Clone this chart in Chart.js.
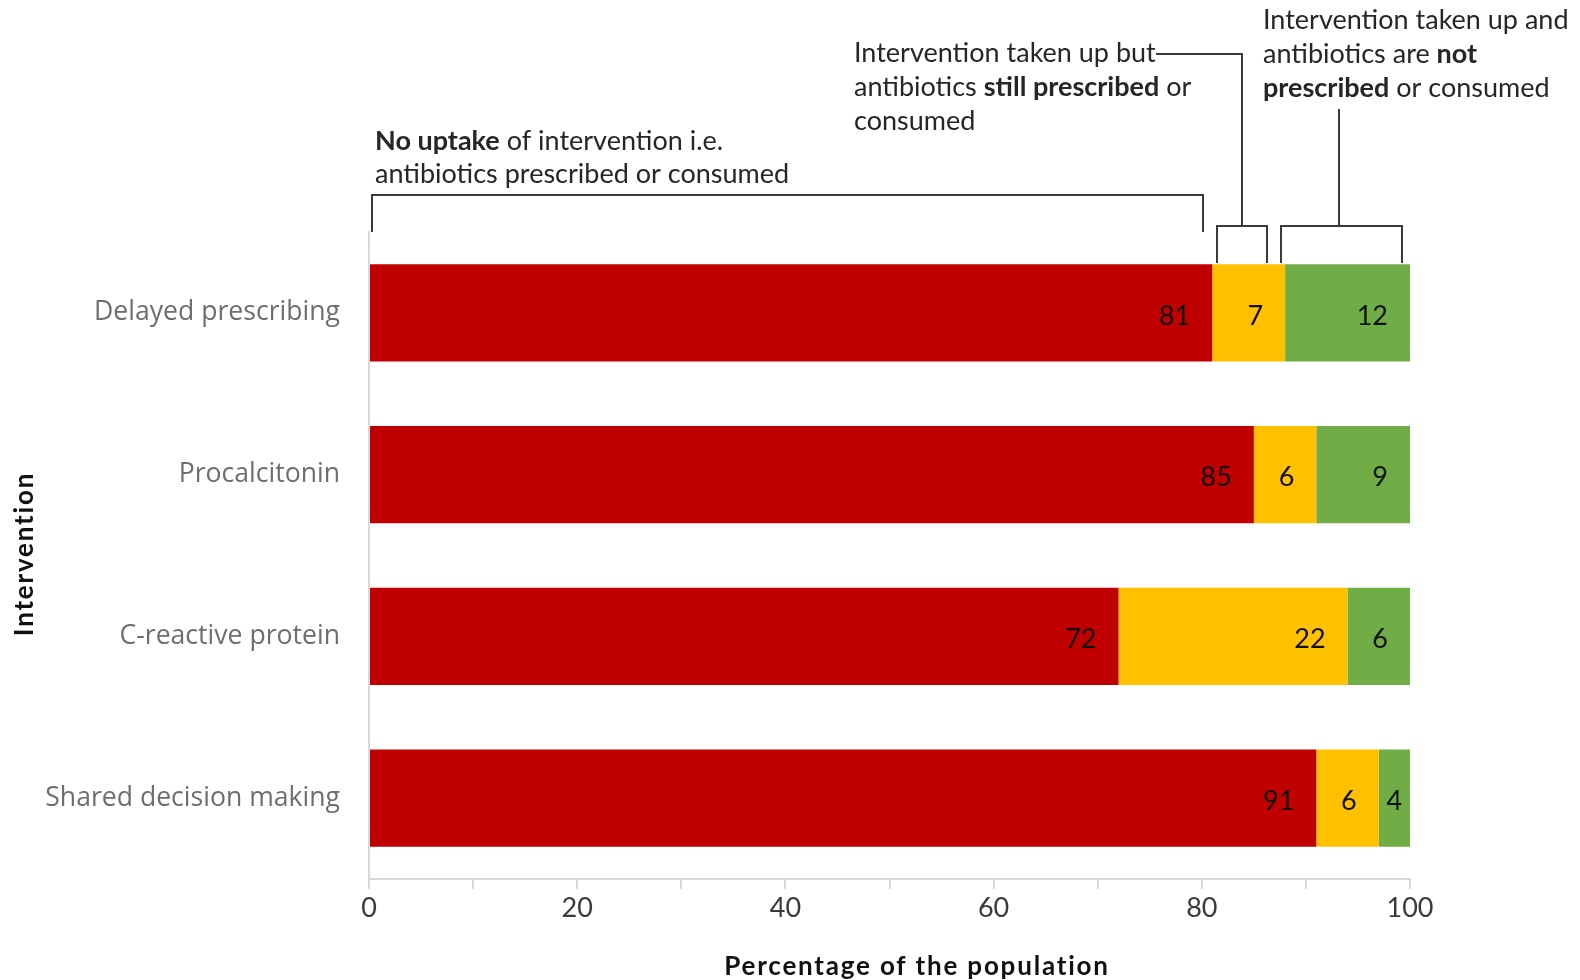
<!DOCTYPE html>
<html>
<head>
<meta charset="utf-8">
<script src="https://cdn.jsdelivr.net/npm/chart.js@4.4.1/dist/chart.umd.min.js"></script>
<style>
  html, body { margin: 0; padding: 0; background: #ffffff; }
  #wrap { width: 1580px; height: 980px; position: relative; }
</style>
</head>
<body>
<div id="wrap"><canvas id="chart" width="1580" height="980"></canvas></div>
<script>
// Interventions (one horizontal bar each)
const categories = ['Delayed prescribing', 'Procalcitonin', 'C-reactive protein', 'Shared decision making'];

// Share of the population (%) in each outcome group
const noUptake = [81, 85, 72, 91];
const uptakeStillPrescribed = [7, 6, 22, 6];
const uptakeNotPrescribed = [12, 9, 6, 4];

const seriesNames = [
  'No uptake of intervention',
  'Intervention taken up but antibiotics still prescribed',
  'Intervention taken up and antibiotics not prescribed'
];
const seriesColors = ['#C00000', '#FFC000', '#70AD47'];

// Labelled positions on the percentage axis
const xTickLabels = [0, 20, 40, 60, 80, 100];

const axisTitleX = 'Percentage of the population';
const axisTitleY = 'Intervention';

// Bracket callouts above the first bar: text lines made of [text, bold] runs
const calloutNoUptake = [
  [['No uptake', true], [' of intervention i.e.', false]],
  [['antibiotics prescribed or consumed', false]]
];
const calloutStillPrescribed = [
  [['Intervention taken up but', false]],
  [['antibiotics ', false], ['still prescribed', true], [' or', false]],
  [['consumed', false]]
];
const calloutNotPrescribed = [
  [['Intervention taken up and', false]],
  [['antibiotics are ', false], ['not', true]],
  [['prescribed', true], [' or consumed', false]]
];

const TEXT_FONT = 'Lato, "Open Sans", sans-serif';
const LABEL_FONT = '"Open Sans", "Noto Sans", sans-serif';

function drawRich(ctx, lines, x, y0, lineGap, size) {
  ctx.save();
  ctx.fillStyle = '#262626';
  ctx.textBaseline = 'middle';
  ctx.textAlign = 'left';
  lines.forEach((runs, i) => {
    let cx = x;
    const cy = y0 + i * lineGap;
    runs.forEach(([txt, bold]) => {
      ctx.font = (bold ? 'bold ' : '') + size + 'px ' + TEXT_FONT;
      ctx.fillText(txt, cx, cy);
      cx += ctx.measureText(txt).width;
    });
  });
  ctx.restore();
}

const calloutPlugin = {
  id: 'callouts',
  afterDatasetsDraw(chart) {
    const ctx = chart.ctx;
    const area = chart.chartArea;
    // value labels just inside the visible end of each segment
    ctx.save();
    ctx.font = '27px ' + TEXT_FONT;
    ctx.fillStyle = '#111111';
    ctx.textAlign = 'right';
    ctx.textBaseline = 'middle';
    chart.data.datasets.forEach((ds, di) => {
      const meta = chart.getDatasetMeta(di);
      meta.data.forEach((bar, i) => {
        const txt = String(ds.data[i]);
        const end = Math.min(bar.x, area.right);
        const start = Math.max(Math.min(bar.base, area.right), area.left);
        const w = ctx.measureText(txt).width;
        const pad = Math.max(0, Math.min(22, (end - start - w) / 2));
        ctx.fillText(txt, end - pad, bar.y + 3);
      });
    });
    ctx.restore();
  },
  afterDraw(chart) {
    const ctx = chart.ctx;
    const xs = chart.scales.x;
    const px = v => Math.round(xs.getPixelForValue(v));

    // brackets and leader lines
    ctx.save();
    ctx.strokeStyle = '#3a3a3a';
    ctx.lineWidth = 2;
    ctx.beginPath();
    // bracket over the no-uptake segment
    ctx.moveTo(px(0.3), 232); ctx.lineTo(px(0.3), 195); ctx.lineTo(px(80.1), 195); ctx.lineTo(px(80.1), 232);
    // bracket over the still-prescribed segment, with leader to its text
    ctx.moveTo(px(81.5), 263); ctx.lineTo(px(81.5), 226); ctx.lineTo(px(86.3), 226); ctx.lineTo(px(86.3), 263);
    ctx.moveTo(px(83.9), 226); ctx.lineTo(px(83.9), 54); ctx.lineTo(1156, 54);
    // bracket over the not-prescribed segment, with leader to its text
    ctx.moveTo(px(87.6), 263); ctx.lineTo(px(87.6), 226); ctx.lineTo(px(99.2), 226); ctx.lineTo(px(99.2), 263);
    ctx.moveTo(px(93.2), 226); ctx.lineTo(px(93.2), 109);
    ctx.stroke();
    ctx.restore();

    drawRich(ctx, calloutNoUptake, 375, 141, 33, 27);
    drawRich(ctx, calloutStillPrescribed, 854, 53, 34, 27);
    drawRich(ctx, calloutNotPrescribed, 1263, 20, 34, 27);

    // axis titles
    ctx.save();
    ctx.fillStyle = '#111111';
    ctx.font = 'bold 26px ' + TEXT_FONT;
    ctx.letterSpacing = '1.8px';
    ctx.textAlign = 'center';
    ctx.textBaseline = 'middle';
    ctx.fillText(axisTitleX, 917, 967);
    ctx.translate(25, 554);
    ctx.rotate(-Math.PI / 2);
    ctx.fillText(axisTitleY, 0, 0);
    ctx.restore();
  }
};

const seriesData = [noUptake, uptakeStillPrescribed, uptakeNotPrescribed];

new Chart(document.getElementById('chart'), {
  type: 'bar',
  data: {
    labels: categories,
    datasets: seriesData.map((d, i) => ({
      label: seriesNames[i],
      data: d,
      backgroundColor: seriesColors[i],
      borderWidth: 0,
      barPercentage: 0.6,
      categoryPercentage: 1.0
    }))
  },
  options: {
    indexAxis: 'y',
    responsive: false,
    animation: false,
    devicePixelRatio: 1,
    layout: { padding: { top: 232, right: 170, bottom: 0, left: 0 } },
    plugins: {
      legend: { display: false },
      tooltip: { enabled: false }
    },
    scales: {
      x: {
        stacked: true,
        min: 0,
        max: 100,
        ticks: {
          stepSize: 10,
          autoSkip: false,
          maxRotation: 0,
          padding: 3,
          color: '#3a3a3a',
          font: { family: TEXT_FONT, size: 27 },
          callback: v => (xTickLabels.includes(v) ? String(v) : '')
        },
        grid: { drawOnChartArea: false, drawTicks: true, tickLength: 10, color: '#d9d9d9', lineWidth: 2 },
        border: { display: true, color: '#d9d9d9', width: 2 },
        afterFit: s => { s.height = 101; }
      },
      y: {
        stacked: true,
        ticks: {
          padding: 29,
          color: '#6e6e6e',
          font: { family: LABEL_FONT, size: 26.6 }
        },
        grid: { display: true, drawOnChartArea: false, drawTicks: false },
        border: { display: true, color: '#d9d9d9', width: 2 },
        afterFit: s => { s.width = 369; }
      }
    }
  },
  plugins: [calloutPlugin]
});
</script>
</body>
</html>
